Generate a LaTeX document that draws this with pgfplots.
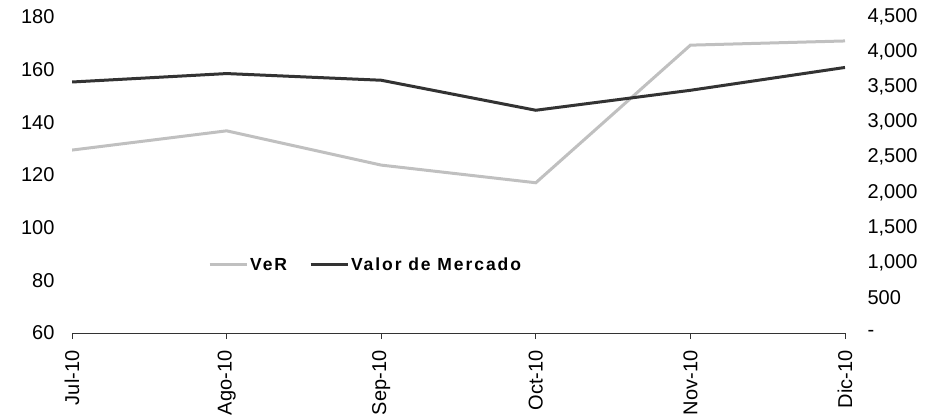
\documentclass[border=0pt]{standalone}
\usepackage{fontspec}
\setmainfont{Liberation Sans}
\usepackage{pgfplots}
\pgfplotsset{compat=1.18}
\definecolor{lightline}{HTML}{C0C0C0}
\definecolor{darkline}{HTML}{333333}
\begin{document}
\begin{tikzpicture}[x=1pt,y=1pt]
\path[use as bounding box] (0,0) rectangle (931,418);
\begin{axis}[
  at={(72pt,85pt)}, anchor=south west,
  width=773pt, height=316.3pt, scale only axis,
  xmin=0, xmax=5, ymin=60, ymax=180,
  axis x line*=bottom, axis y line*=left,
  y axis line style={draw=none},
  ytick={60,80,...,180},
  ytick style={draw=none},
  xtick={0,...,5},
  xticklabels={Jul-10,Ago-10,Sep-10,Oct-10,Nov-10,Dic-10},
  xtick align=outside,
  major tick length=6pt,
  x axis line style={black!80, line width=0.7pt, -},
  xtick style={black!80, line width=0.7pt},
  tick label style={font=\fontsize{20}{22}\selectfont},
  /pgf/number format/assume math mode=true,
  xticklabel style={rotate=90, anchor=east, xshift=-8pt},
  yticklabel style={anchor=east, xshift=-14pt},
  legend style={draw=none, fill=none, at={(0.172,0.215)}, anchor=west,
    font=\fontsize{17.5}{20}\selectfont\bfseries\addfontfeature{LetterSpace=11},
    legend columns=2,
    /tikz/every even column/.append style={column sep=20pt}},
  legend image code/.code={\draw[#1] (0pt,0pt) -- (37pt,0pt);},
]
\addplot[lightline, line width=3pt] coordinates {(0,129.4) (1,136.7) (2,123.7) (3,117.0) (4,169.2) (5,170.8)};
\addlegendentry{VeR}
\addlegendimage{darkline, line width=3pt}
\addlegendentry{Valor de Mercado}
\end{axis}
\begin{axis}[
  at={(72pt,85pt)}, anchor=south west,
  width=773pt, height=316.3pt, scale only axis,
  xmin=0, xmax=5, ymin=0, ymax=4500,
  axis x line=none, axis y line*=right,
  y axis line style={draw=none},
  ytick={0,500,...,4500},
  yticklabels={-,500,{1,000},{1,500},{2,000},{2,500},{3,000},{3,500},{4,000},{4,500}},
  ytick style={draw=none},
  tick label style={font=\fontsize{20}{22}\selectfont},
  yticklabel style={anchor=west, xshift=19pt},
]
\addplot[darkline, line width=3pt] coordinates {(0,3571) (1,3691) (2,3596) (3,3169) (4,3453) (5,3778)};
\end{axis}
\end{tikzpicture}
\end{document}
